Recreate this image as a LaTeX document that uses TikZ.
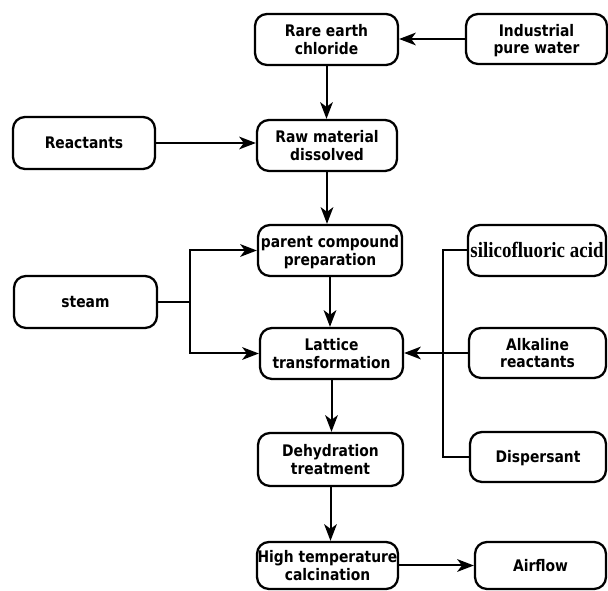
\documentclass[tikz,border=0pt]{standalone}
\usepackage{fontspec}
\usepackage{graphicx}
\setmainfont{DejaVu Sans}
\newfontfamily\timesfont{Liberation Serif}
\usetikzlibrary{arrows.meta}
\newcommand\boxtext[1]{\raisebox{-1.8pt}[\height][\depth]{\scalebox{1}[1.15]{\begin{tabular}{@{}c@{}}#1\end{tabular}}}}
\tikzset{
  box/.style={draw=black, line width=1.7pt, rounded corners=9pt, align=center,
    inner sep=0pt, minimum width=107.25pt, minimum height=38.25pt,
    font=\fontsize{10.4pt}{11.5pt}\selectfont\bfseries},
  bw/.style={minimum width={#1*0.75pt}},
  bh/.style={minimum height={#1*0.75pt}},
  conn/.style={draw=black, line width=1.5pt},
  arr/.style={conn, -{Stealth[length=12.5pt,width=9.5pt,inset=3.5pt]}},
}
\begin{document}
\begin{tikzpicture}[x=0.75pt,y=-0.75pt]
\useasboundingbox (0,0) rectangle (608,591);
\node[box,bw=143,bh=51] (rec) at (326.5,39.5) {\boxtext{Rare earth\\chloride}};
\node[box,bw=141,bh=50] (ipw) at (536.5,39) {\boxtext{Industrial\\pure water}};
\node[box,bw=140,bh=51] (raw) at (327,145.5) {\boxtext{Raw material\\dissolved}};
\node[box,bw=142,bh=52] (react) at (84,143) {\boxtext{Reactants}};
\node[box,bw=144,bh=51] (parent) at (330,250.5) {\boxtext{parent compound\\preparation}};
\node[box,bw=143,bh=52] (steam) at (85.5,302) {\boxtext{steam}};
\node[box,bw=143,bh=51] (lattice) at (331.5,353.5) {\boxtext{Lattice\\transformation}};
\node[box,bw=138,bh=51,font=\fontsize{14.2pt}{16pt}\selectfont\timesfont\bfseries] (sil) at (537,250.5) {\boxtext{silicofluoric acid}};
\node[box,bw=137,bh=50] (alk) at (537.5,353) {\boxtext{Alkaline\\reactants}};
\node[box,bw=136,bh=50] (disp) at (538,457) {\boxtext{Dispersant}};
\node[box,bw=145,bh=53] (dehyd) at (330.5,459.5) {\boxtext{Dehydration\\treatment}};
\node[box,bw=141,bh=47] (high) at (327.5,565.5) {\boxtext{High temperature\\calcination}};
\node[box,bw=131,bh=47] (air) at (540.5,565.5) {\boxtext{Airflow}};
\coordinate (sj) at (190,302);
\coordinate (rbx) at (443,0);
% connectors
\draw[arr] (ipw.west) -- (ipw.west -| rec.east);
\draw[arr] (rec.south) -- (rec.south |- raw.north);
\draw[arr] (react.east) -- (react.east -| raw.west);
\draw[arr] (raw.south) -- (raw.south |- parent.north);
\draw[arr] (parent.south) -- (parent.south |- lattice.north);
\draw[conn] (steam.east) -- (sj);
\draw[arr] (sj) |- (parent.west);
\draw[arr] (sj) |- (lattice.west);
\draw[conn] (sil.west) -- (sil.west -| rbx) |- (disp.west);
\draw[arr] (alk.west) -- (alk.west -| lattice.east);
\draw[arr] (lattice.south) -- (lattice.south |- dehyd.north);
\draw[arr] (dehyd.south) -- (dehyd.south |- high.north);
\draw[arr] (high.east) -- (high.east -| air.west);
\end{tikzpicture}
\end{document}
